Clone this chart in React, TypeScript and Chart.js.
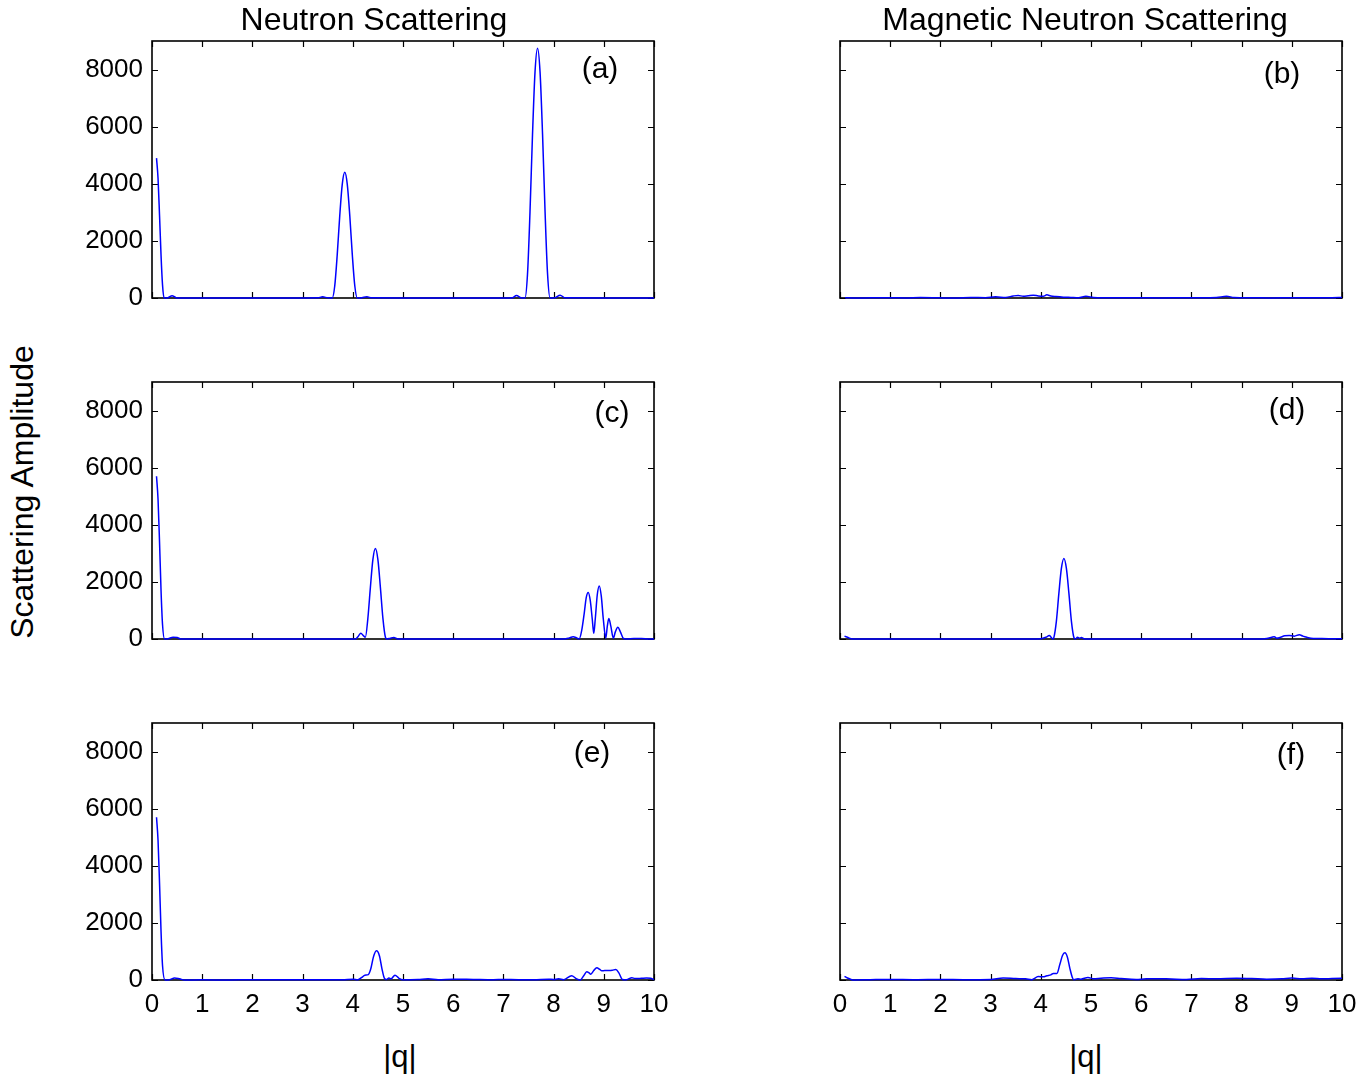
import React, { useEffect, useRef } from 'react';
import { Chart, registerables } from 'chart.js';

Chart.register(...registerables);

const FONT = "'Liberation Sans', Arial, Helvetica, sans-serif";

// Tick values
const X_TICKS = [0, 1, 2, 3, 4, 5, 6, 7, 8, 9, 10];
const Y_TICKS = [0, 2000, 4000, 6000, 8000];
const Y_MAX = 9000;

// Column / row titles
const COL_TITLES = ['Neutron Scattering', 'Magnetic Neutron Scattering'];
const Y_TITLE = 'Scattering Amplitude';
const X_TITLE = '|q|';
const PANEL_LABELS = ['(a)', '(b)', '(c)', '(d)', '(e)', '(f)'];

// (a) Neutron scattering
const qA = [0.09, 0.12, 0.15, 0.18, 0.21, 0.24, 0.32, 0.40, 0.48, 0.56, 1.0, 2.0, 3.0, 3.3, 3.40, 3.5, 3.59, 3.64, 3.69, 3.74, 3.79, 3.84, 3.89, 3.94, 3.99, 4.04, 4.09, 4.18, 4.28, 4.38, 5.0, 6.0, 7.0, 7.18, 7.26, 7.35, 7.43, 7.48, 7.53, 7.58, 7.63, 7.68, 7.73, 7.78, 7.83, 7.88, 7.93, 8.03, 8.13, 8.23, 9.0, 10.0];
const ampA = [4900, 4200, 2900, 1500, 450, 0, 10, 80, 10, 0, 0, 0, 0, 5, 40, 5, 0, 420, 1520, 2880, 3980, 4400, 3980, 2880, 1520, 420, 0, 10, 40, 5, 0, 0, 0, 10, 90, 10, 0, 830, 3020, 5730, 7920, 8750, 7920, 5730, 3020, 830, 0, 10, 100, 5, 0, 0];

// (b) Magnetic neutron scattering
const qB = [0.1, 0.3, 0.6, 1.0, 1.3, 1.6, 2.0, 2.3, 2.6, 2.9, 3.1, 3.3, 3.45, 3.55, 3.65, 3.75, 3.85, 3.95, 4.05, 4.12, 4.2, 4.3, 4.45, 4.6, 4.75, 4.9, 5.05, 5.3, 5.6, 6.0, 6.4, 6.8, 7.2, 7.5, 7.7, 7.85, 8.2, 8.6, 9.0, 9.4, 9.8, 10.0];
const ampB = [10, 0, 5, 10, 0, 15, 5, 0, 20, 10, 40, 20, 70, 90, 60, 80, 100, 70, 60, 110, 70, 50, 30, 20, 10, 60, 20, 10, 5, 10, 0, 10, 10, 20, 60, 20, 10, 0, 10, 5, 10, 20];

// (c) Neutron scattering
const qC = [0.09, 0.12, 0.15, 0.18, 0.21, 0.25, 0.32, 0.42, 0.5, 0.58, 1.0, 2.0, 3.0, 4.05, 4.11, 4.16, 4.21, 4.25, 4.30, 4.35, 4.40, 4.45, 4.50, 4.55, 4.60, 4.65, 4.68, 4.75, 4.82, 4.88, 4.95, 6.0, 7.0, 8.2, 8.3, 8.39, 8.46, 8.51, 8.56, 8.61, 8.65, 8.69, 8.73, 8.77, 8.80, 8.83, 8.87, 8.91, 8.95, 8.99, 9.04, 9.07, 9.10, 9.14, 9.19, 9.23, 9.28, 9.33, 9.39, 9.45, 9.6, 9.75, 9.9, 10.0];
const ampC = [5700, 4900, 3400, 1700, 500, 0, 10, 60, 50, 0, 0, 0, 0, 0, 100, 200, 120, 60, 720, 1800, 2780, 3170, 2780, 1800, 720, 60, 0, 30, 50, 10, 0, 0, 0, 0, 30, 80, 40, 0, 300, 900, 1450, 1630, 1350, 700, 200, 700, 1550, 1860, 1500, 700, 30, 450, 720, 450, 30, 250, 410, 250, 20, 0, 20, 20, 0, 0];

// (d) Magnetic neutron scattering
const qD = [0.09, 0.15, 0.22, 0.3, 1.0, 2.0, 3.0, 3.8, 4.0, 4.1, 4.17, 4.21, 4.24, 4.26, 4.31, 4.36, 4.41, 4.46, 4.51, 4.56, 4.61, 4.66, 4.69, 4.73, 4.77, 4.81, 4.86, 5.0, 6.0, 7.0, 8.3, 8.5, 8.6, 8.65, 8.7, 8.76, 8.86, 8.95, 9.05, 9.15, 9.22, 9.3, 9.43, 9.6, 9.8, 10.0];
const ampD = [100, 60, 10, 0, 0, 0, 0, 0, 10, 60, 120, 50, 0, 50, 620, 1600, 2470, 2820, 2470, 1600, 620, 50, 0, 60, 30, 50, 10, 0, 0, 0, 0, 20, 60, 80, 30, 50, 110, 120, 100, 150, 100, 60, 20, 15, 10, 5];

// (e) Neutron scattering
const qE = [0.09, 0.12, 0.15, 0.18, 0.21, 0.26, 0.35, 0.45, 0.55, 0.65, 1.0, 1.5, 2.0, 2.5, 3.0, 3.5, 3.8, 4.01, 4.1, 4.18, 4.24, 4.31, 4.36, 4.41, 4.47, 4.53, 4.58, 4.63, 4.67, 4.72, 4.76, 4.84, 4.92, 5.0, 5.3, 5.5, 5.7, 6.0, 6.4, 6.8, 7.0, 7.3, 7.6, 7.9, 8.0, 8.1, 8.2, 8.36, 8.45, 8.53, 8.60, 8.66, 8.70, 8.74, 8.80, 8.86, 8.92, 8.96, 9.02, 9.1, 9.17, 9.24, 9.30, 9.37, 9.45, 9.56, 9.62, 9.75, 9.85, 9.93, 10.0];
const ampE = [5700, 4900, 3400, 1700, 500, 0, 10, 70, 40, 0, 5, 0, 10, 5, 10, 5, 10, 30, 10, 90, 170, 190, 400, 800, 1020, 850, 400, 60, 20, 70, 40, 170, 60, 10, 20, 40, 10, 30, 20, 10, 20, 10, 10, 30, 20, 40, 10, 150, 50, 0, 150, 290, 260, 200, 330, 430, 370, 320, 330, 330, 340, 370, 250, 20, 10, 80, 50, 60, 70, 60, 10];

// (f) Magnetic neutron scattering
const qF = [0.09, 0.15, 0.22, 0.28, 0.6, 1.0, 1.5, 2.0, 2.5, 3.0, 3.25, 3.5, 3.7, 3.82, 3.95, 4.05, 4.12, 4.2, 4.25, 4.32, 4.38, 4.43, 4.48, 4.53, 4.58, 4.63, 4.66, 4.74, 4.8, 4.94, 5.05, 5.2, 5.4, 5.6, 5.9, 6.1, 6.5, 6.9, 7.2, 7.5, 7.9, 8.2, 8.5, 8.8, 9.0, 9.2, 9.4, 9.6, 9.8, 10.0];
const ampF = [130, 70, 20, 0, 10, 20, 10, 20, 10, 20, 70, 50, 40, 10, 120, 110, 150, 180, 230, 230, 550, 850, 950, 800, 400, 80, 10, 40, 30, 90, 40, 60, 80, 50, 20, 40, 40, 20, 50, 40, 60, 50, 30, 40, 70, 40, 60, 40, 50, 60];

const SERIES_Q = [qA, qB, qC, qD, qE, qF];
const SERIES_AMP = [ampA, ampB, ampC, ampD, ampE, ampF];

// layout
const COL_LEFT = [152, 840];
const ROW_BOTTOM = [298, 639, 980];
const PLOT_W = 502;
const PLOT_H = 257;
const Y_AXIS_W = 100;
const PAD_TOP = 30;
const PAD_RIGHT = 25;
const X_AXIS_H = 45;

const boxPlugin = {
  id: 'matlabBox',
  beforeDatasetsDraw(chart: any) {
    const { ctx, chartArea, scales } = chart;
    const { left, right, top, bottom } = chartArea;
    const xs = scales.x;
    const ys = scales.y;
    ctx.save();
    ctx.strokeStyle = '#000';
    ctx.lineWidth = 1.2;
    const tl = 6;
    ctx.beginPath();
    for (const v of X_TICKS) {
      const px = Math.round(xs.getPixelForValue(v)) + 0.5;
      ctx.moveTo(px, bottom);
      ctx.lineTo(px, bottom - tl);
      ctx.moveTo(px, top);
      ctx.lineTo(px, top + tl);
    }
    for (const v of Y_TICKS) {
      const py = Math.round(ys.getPixelForValue(v)) + 0.5;
      ctx.moveTo(left, py);
      ctx.lineTo(left + tl, py);
      ctx.moveTo(right, py);
      ctx.lineTo(right - tl, py);
    }
    ctx.stroke();
    ctx.lineWidth = 1.6;
    ctx.strokeRect(left, top, right - left, bottom - top);
    ctx.restore();
  },
};

type PanelProps = {
  idx: number;
  left: number;
  top: number;
  showY: boolean;
  showX: boolean;
};

function Panel({ idx, left, top, showY, showX }: PanelProps) {
  const ref = useRef<HTMLCanvasElement | null>(null);
  const w = PLOT_W + Y_AXIS_W + PAD_RIGHT;
  const h = PLOT_H + PAD_TOP + X_AXIS_H;
  useEffect(() => {
    if (!ref.current) return;
    const q = SERIES_Q[idx];
    const amp = SERIES_AMP[idx];
    const chart = new Chart(ref.current, {
      type: 'line',
      data: {
        datasets: [
          {
            data: q.map((x, i) => ({ x, y: amp[i] })),
            borderColor: '#0000ff',
            borderWidth: 1.5,
            pointRadius: 0,
            fill: false,
            cubicInterpolationMode: 'monotone',
            clip: false as any,
          } as any,
        ],
      },
      options: {
        responsive: false,
        animation: false,
        devicePixelRatio: 1,
        events: [],
        layout: { padding: { top: PAD_TOP, right: PAD_RIGHT, left: 0, bottom: 0 } },
        plugins: {
          legend: { display: false },
          tooltip: { enabled: false },
          title: { display: false },
        },
        scales: {
          x: {
            type: 'linear',
            min: 0,
            max: 10,
            grid: { display: false, drawTicks: false },
            border: { display: false },
            ticks: {
              display: showX,
              color: '#000',
              font: { family: FONT, size: 26 },
              padding: 9,
              maxRotation: 0,
              autoSkip: false,
              callback: (v: any) => String(v),
            },
            afterBuildTicks: (s: any) => {
              s.ticks = X_TICKS.map((v) => ({ value: v }));
            },
            afterFit: (s: any) => {
              s.height = X_AXIS_H;
            },
          },
          y: {
            type: 'linear',
            min: 0,
            max: Y_MAX,
            grid: { display: false, drawTicks: false },
            border: { display: false },
            ticks: {
              display: showY,
              color: '#000',
              font: { family: FONT, size: 26 },
              padding: 9,
              callback: (v: any) => String(v),
            },
            afterBuildTicks: (s: any) => {
              s.ticks = Y_TICKS.map((v) => ({ value: v }));
            },
            afterFit: (s: any) => {
              s.width = Y_AXIS_W;
            },
          },
        },
      },
      plugins: [boxPlugin],
    } as any);
    return () => chart.destroy();
  }, [idx, showX, showY]);
  return (
    <canvas
      ref={ref}
      width={w}
      height={h}
      style={{ position: 'absolute', left: left - Y_AXIS_W, top: top - PAD_TOP, width: w, height: h }}
    />
  );
}

function Label({ text, x, y, size, rotate }: { text: string; x: number; y: number; size: number; rotate?: boolean }) {
  return (
    <div
      style={{
        position: 'absolute',
        left: x,
        top: y,
        transform: `translate(-50%, -50%)${rotate ? ' rotate(-90deg)' : ''}`,
        fontFamily: FONT,
        fontSize: size,
        lineHeight: 1,
        whiteSpace: 'nowrap',
        color: '#000',
      }}
    >
      {text}
    </div>
  );
}

const LABEL_POS = [
  [600, 68],
  [1282, 73],
  [612, 412],
  [1287, 409],
  [592, 752],
  [1291, 754],
];

export default function App() {
  const panels = [];
  for (let r = 0; r < 3; r++) {
    for (let c = 0; c < 2; c++) {
      const idx = r * 2 + c;
      panels.push(
        <Panel
          key={idx}
          idx={idx}
          left={COL_LEFT[c]}
          top={ROW_BOTTOM[r] - PLOT_H}
          showY={c === 0}
          showX={r === 2}
        />
      );
    }
  }
  return (
    <div style={{ position: 'absolute', left: 0, top: 0, width: 1369, height: 1079, background: '#fff', overflow: 'hidden' }}>
      {panels}
      <Label text={COL_TITLES[0]} x={374} y={19} size={32} />
      <Label text={COL_TITLES[1]} x={1085} y={19} size={32} />
      <Label text={Y_TITLE} x={22} y={492} size={32} rotate />
      <Label text={X_TITLE} x={400} y={1056} size={31} />
      <Label text={X_TITLE} x={1086} y={1056} size={31} />
      {PANEL_LABELS.map((t, i) => (
        <Label key={t} text={t} x={LABEL_POS[i][0]} y={LABEL_POS[i][1]} size={30} />
      ))}
    </div>
  );
}
